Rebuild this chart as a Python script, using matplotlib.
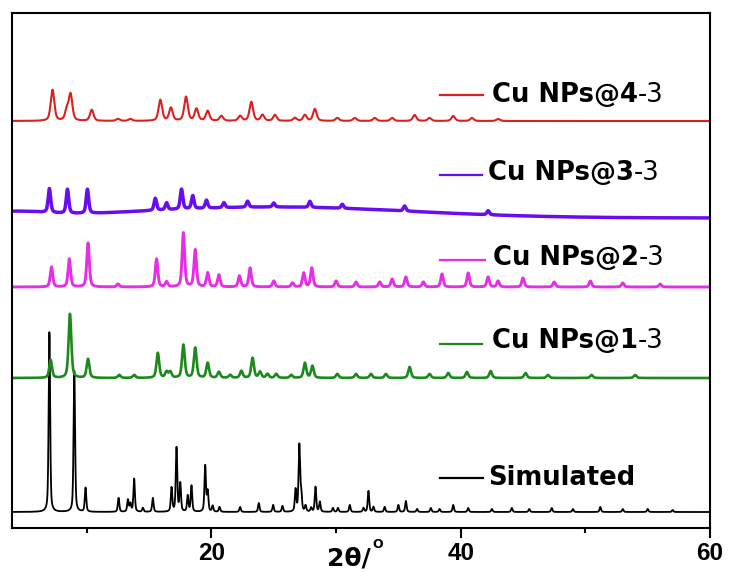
import numpy as np
import matplotlib
matplotlib.use("Agg")
import matplotlib.pyplot as plt
from matplotlib.ticker import FixedLocator

# ---------------- data ----------------
x_min, x_max = 4, 60
major_ticks = [20, 40, 60]
minor_ticks = [10, 30, 50]
x_label = "2θ/"
x_label_sup = "O"

series_names = ["Simulated", "Cu NPs@1-3", "Cu NPs@2-3", "Cu NPs@3-3", "Cu NPs@4-3"]
series_colors = ["#000000", "#1b8a1b", "#e52ee6", "#6a0cf0", "#dc2020"]

# peak positions (2θ) and intensities (arb. units) for each pattern
sim_pos = [7.0, 9.0, 9.9, 12.55, 13.3, 13.5, 13.8, 14.5, 15.3, 16.8, 17.2, 17.5, 18.1,
           18.4, 19.5, 19.7, 20.1, 20.65, 22.3, 23.8, 24.95, 25.7, 26.75, 27.05, 27.2,
           27.55, 28.0, 28.35, 28.7, 29.75, 30.15, 31.1, 32.2, 32.6, 33.0, 33.9, 35.0,
           35.6, 36.5, 37.6, 38.3, 39.4, 40.6, 42.5, 44.1, 45.5, 47.3, 49.0, 51.2, 53.0,
           55.0, 57.0]
sim_int = [180, 141, 24, 14, 12, 8, 33, 4, 14, 24, 64, 28, 16, 26, 46, 20, 6, 5, 5, 9, 7,
           6, 22, 66, 18, 6, 4, 25, 10, 4, 4, 7, 4, 21, 5, 5, 7, 11, 3, 4, 3, 7, 4, 3, 4,
           3, 4, 3, 5, 3, 3, 2]

np1_pos = [7.1, 8.65, 10.1, 12.6, 13.8, 15.7, 16.4, 16.7, 17.75, 18.7, 19.7, 20.6, 21.5,
           22.4, 23.3, 23.9, 24.5, 25.2, 26.4, 27.5, 28.1, 30.1, 31.6, 32.8, 34.0, 35.9,
           37.5, 39.0, 40.5, 42.4, 45.2, 47.0, 50.5, 54.0]
np1_int = [18, 64, 19, 3, 3, 25, 6, 6, 33, 30, 15, 6, 3, 7, 20, 6, 4, 4, 3, 15, 12, 4, 4,
           4, 4, 11, 4, 5, 6, 7, 5, 3, 3, 3]

np2_pos = [7.17, 8.6, 10.1, 12.5, 15.6, 16.4, 17.75, 18.7, 19.7, 20.6, 22.25, 23.1, 25.0,
           26.5, 27.4, 28.05, 30.0, 31.6, 33.5, 34.5, 35.6, 37.0, 38.5, 40.6, 42.2, 43.0,
           45.0, 47.5, 50.4, 53.0, 56.0]
np2_int = [20, 28, 44, 3, 28, 5, 54, 37, 14, 12, 11, 19, 6, 4, 14, 19, 6, 5, 5, 8, 10, 5,
           13, 14, 10, 6, 9, 5, 6, 4, 3]

np3_pos = [7.0, 8.45, 10.05, 15.5, 16.4, 17.6, 18.5, 19.6, 21.0, 22.9, 25.0, 27.9, 30.5,
           35.5, 42.2]
np3_int = [24, 24, 24, 12, 7, 20, 13, 8, 5, 6, 4, 6, 4, 5, 4]
np3_hump_pos = [4.0, 25.0]          # broad amorphous background
np3_hump_int = [5, 11]
np3_hump_width = [6.0, 26.0]

np4_pos = [7.25, 8.4, 8.7, 10.4, 12.5, 13.5, 15.9, 16.75, 17.96, 18.8, 19.7, 20.8, 22.3,
           23.2, 24.1, 25.1, 26.7, 27.5, 28.3, 30.1, 31.5, 33.1, 34.5, 36.3, 37.5, 39.4,
           40.9, 43.0]
np4_int = [31, 10, 26, 11, 2, 2, 21, 13, 24, 12, 10, 5, 5, 19, 6, 6, 3, 6, 12, 3, 3, 3, 3,
           6, 3, 5, 3, 2]

peak_lists = [(sim_pos, sim_int), (np1_pos, np1_int), (np2_pos, np2_int),
              (np3_pos, np3_int), (np4_pos, np4_int)]

# ---------------- styling / layout ----------------
fwhm = [0.14, 0.26, 0.24, 0.24, 0.34]
offsets = [16, 150, 241, 310, 407]
linewidths = [1.3, 1.9, 2.1, 2.5, 1.5]

W, H = 729, 572
ax_l, ax_r, ax_t, ax_b = 12, 710, 13, 528


def fx(px):
    return (px - ax_l) / (ax_r - ax_l)


def fy(py):
    return (ax_b - py) / (ax_b - ax_t)


def pv(x, c, h, w):
    g = np.exp(-4 * np.log(2) * ((x - c) / w) ** 2)
    lo = 1.0 / (1.0 + 4 * ((x - c) / w) ** 2)
    return h * (0.5 * g + 0.5 * lo)


fig = plt.figure(figsize=(W / 100, H / 100), dpi=100)
ax = fig.add_axes([ax_l / W, 1 - ax_b / H, (ax_r - ax_l) / W, (ax_b - ax_t) / H])

x = np.linspace(x_min, x_max, 8001)
for i, (pos, inten) in enumerate(peak_lists):
    y = np.full_like(x, float(offsets[i]))
    for c, h in zip(pos, inten):
        y += pv(x, c, h, fwhm[i])
    if i == 3:
        for c, h, w in zip(np3_hump_pos, np3_hump_int, np3_hump_width):
            y += h * np.exp(-4 * np.log(2) * ((x - c) / w) ** 2)
    ax.plot(x, y, color=series_colors[i], lw=linewidths[i], solid_joinstyle="round")

ax.set_xlim(x_min, x_max)
ax.set_ylim(0, ax_b - ax_t)
ax.set_yticks([])
ax.xaxis.set_major_locator(FixedLocator(major_ticks))
ax.xaxis.set_minor_locator(FixedLocator(minor_ticks))
ax.tick_params(axis="x", which="major", direction="out", length=7, width=1.5, pad=3,
               labelsize=17.5)
ax.tick_params(axis="x", which="minor", direction="out", length=3.6, width=1.5)
for lab in ax.get_xticklabels():
    lab.set_fontfamily("Liberation Sans")
    lab.set_fontweight("bold")
for s in ax.spines.values():
    s.set_linewidth(1.5)

# x label (same height as the tick labels)
t = ax.text(fx(327), fy(566), x_label, transform=ax.transAxes, ha="left", va="baseline",
            fontsize=18, fontweight="bold", family="DejaVu Sans")
ax.text(fx(372), fy(548), x_label_sup, transform=ax.transAxes, ha="left", va="baseline",
        fontsize=9, fontweight="bold", family="DejaVu Sans")

# in-plot legend: short line + label
leg_line_y = [478, 344, 260, 175, 95]
leg_line_x1 = [483, 482, 485, 482, 483]
leg_text_x = [488, 492, 493, 488, 492]
leg_text_base = [485, 348, 265, 180, 102]
for i, name in enumerate(series_names):
    ax.plot([fx(440), fx(leg_line_x1[i])], [fy(leg_line_y[i])] * 2,
            transform=ax.transAxes, color=series_colors[i], lw=1.6, clip_on=False)
    if "-" in name:
        main, suffix = name.rsplit("-", 1)
        suffix = "-" + suffix
    else:
        main, suffix = name, ""
    tt = ax.text(fx(leg_text_x[i]), fy(leg_text_base[i]), main, transform=ax.transAxes,
                 ha="left", va="baseline", fontsize=18.6, fontweight="bold",
                 family="DejaVu Sans")
    if suffix:
        ax.annotate(suffix, xy=(1, 0), xycoords=tt, ha="left", va="bottom",
                    fontsize=18.6, fontweight="normal", family="DejaVu Sans")

fig.savefig("out.png", dpi=100)
